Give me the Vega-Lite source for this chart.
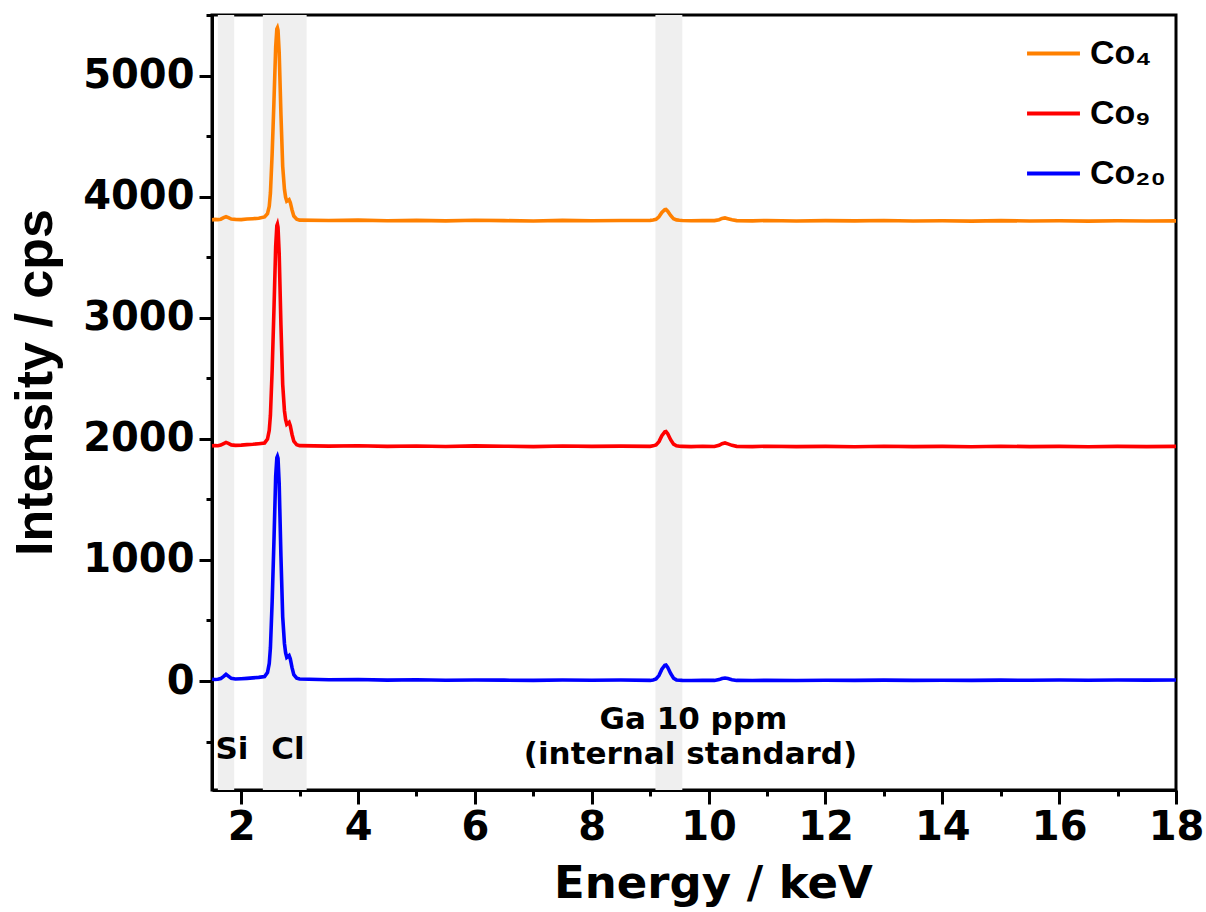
{
  "$schema": "https://vega.github.io/schema/vega-lite/v6.json",
  "width": 964,
  "height": 775,
  "autosize": {"type": "none"},
  "padding": {"left": 212, "top": 15, "right": 30, "bottom": 122},
  "background": "white",
  "config": {
    "view": {"stroke": "black", "strokeWidth": 3},
    "axis": {"grid": false, "domainColor": "black", "domainWidth": 3, "tickColor": "black", "tickWidth": 3, "labelColor": "black", "titleColor": "black"}
  },
  "datasets": {
    "bands": [
      {"x1": 1.6, "x2": 1.88},
      {"x1": 2.37, "x2": 3.12},
      {"x1": 9.09, "x2": 9.55}
    ],
    "notes": [
      {"t": "Si", "x": 1.84, "y": -570},
      {"t": "Cl", "x": 2.8, "y": -570},
      {"t": "Ga 10 ppm", "x": 9.74, "y": -322},
      {"t": "(internal standard)", "x": 9.69, "y": -612}
    ],
    "spec": [
      {"s":"Co₄","e":1.50,"i":3808},{"s":"Co₄","e":1.55,"i":3812},{"s":"Co₄","e":1.60,"i":3810},{"s":"Co₄","e":1.65,"i":3814},{"s":"Co₄","e":1.70,"i":3826},{"s":"Co₄","e":1.74,"i":3834},{"s":"Co₄","e":1.78,"i":3826},{"s":"Co₄","e":1.83,"i":3815},{"s":"Co₄","e":1.90,"i":3812},{"s":"Co₄","e":2.00,"i":3810},{"s":"Co₄","e":2.10,"i":3815},{"s":"Co₄","e":2.20,"i":3818},{"s":"Co₄","e":2.30,"i":3822},{"s":"Co₄","e":2.40,"i":3832},{"s":"Co₄","e":2.45,"i":3860},{"s":"Co₄","e":2.48,"i":3920},{"s":"Co₄","e":2.50,"i":4030},{"s":"Co₄","e":2.53,"i":4360},{"s":"Co₄","e":2.56,"i":4780},{"s":"Co₄","e":2.59,"i":5235},{"s":"Co₄","e":2.61,"i":5385},{"s":"Co₄","e":2.62,"i":5395},{"s":"Co₄","e":2.63,"i":5375},{"s":"Co₄","e":2.65,"i":5190},{"s":"Co₄","e":2.68,"i":4680},{"s":"Co₄","e":2.71,"i":4250},{"s":"Co₄","e":2.74,"i":4060},{"s":"Co₄","e":2.76,"i":3995},{"s":"Co₄","e":2.78,"i":3962},{"s":"Co₄","e":2.80,"i":3968},{"s":"Co₄","e":2.82,"i":3975},{"s":"Co₄","e":2.84,"i":3952},{"s":"Co₄","e":2.87,"i":3890},{"s":"Co₄","e":2.90,"i":3840},{"s":"Co₄","e":2.95,"i":3813},{"s":"Co₄","e":3.00,"i":3806},{"s":"Co₄","e":3.50,"i":3803},{"s":"Co₄","e":4.00,"i":3806},{"s":"Co₄","e":4.50,"i":3801},{"s":"Co₄","e":5.00,"i":3804},{"s":"Co₄","e":5.50,"i":3800},{"s":"Co₄","e":6.00,"i":3805},{"s":"Co₄","e":6.50,"i":3802},{"s":"Co₄","e":7.00,"i":3799},{"s":"Co₄","e":7.50,"i":3804},{"s":"Co₄","e":8.00,"i":3801},{"s":"Co₄","e":8.50,"i":3803},{"s":"Co₄","e":9.00,"i":3804},{"s":"Co₄","e":9.05,"i":3807},{"s":"Co₄","e":9.10,"i":3813},{"s":"Co₄","e":9.15,"i":3833},{"s":"Co₄","e":9.20,"i":3869},{"s":"Co₄","e":9.25,"i":3892},{"s":"Co₄","e":9.27,"i":3894},{"s":"Co₄","e":9.30,"i":3880},{"s":"Co₄","e":9.35,"i":3845},{"s":"Co₄","e":9.40,"i":3817},{"s":"Co₄","e":9.45,"i":3808},{"s":"Co₄","e":9.50,"i":3805},{"s":"Co₄","e":9.55,"i":3803},{"s":"Co₄","e":9.70,"i":3801},{"s":"Co₄","e":9.90,"i":3803},{"s":"Co₄","e":10.10,"i":3802},{"s":"Co₄","e":10.18,"i":3810},{"s":"Co₄","e":10.23,"i":3820},{"s":"Co₄","e":10.28,"i":3824},{"s":"Co₄","e":10.33,"i":3818},{"s":"Co₄","e":10.40,"i":3809},{"s":"Co₄","e":10.48,"i":3802},{"s":"Co₄","e":10.75,"i":3800},{"s":"Co₄","e":11.00,"i":3803},{"s":"Co₄","e":11.50,"i":3799},{"s":"Co₄","e":12.00,"i":3802},{"s":"Co₄","e":12.50,"i":3800},{"s":"Co₄","e":13.00,"i":3803},{"s":"Co₄","e":13.50,"i":3799},{"s":"Co₄","e":14.00,"i":3801},{"s":"Co₄","e":14.50,"i":3798},{"s":"Co₄","e":15.00,"i":3802},{"s":"Co₄","e":15.50,"i":3799},{"s":"Co₄","e":16.00,"i":3801},{"s":"Co₄","e":16.50,"i":3798},{"s":"Co₄","e":17.00,"i":3801},{"s":"Co₄","e":17.50,"i":3799},{"s":"Co₄","e":18.00,"i":3800},
      {"s":"Co₉","e":1.50,"i":1942},{"s":"Co₉","e":1.55,"i":1945},{"s":"Co₉","e":1.60,"i":1943},{"s":"Co₉","e":1.65,"i":1948},{"s":"Co₉","e":1.70,"i":1960},{"s":"Co₉","e":1.74,"i":1970},{"s":"Co₉","e":1.78,"i":1962},{"s":"Co₉","e":1.83,"i":1950},{"s":"Co₉","e":1.90,"i":1946},{"s":"Co₉","e":2.00,"i":1948},{"s":"Co₉","e":2.10,"i":1952},{"s":"Co₉","e":2.20,"i":1955},{"s":"Co₉","e":2.30,"i":1960},{"s":"Co₉","e":2.40,"i":1966},{"s":"Co₉","e":2.45,"i":1998},{"s":"Co₉","e":2.48,"i":2070},{"s":"Co₉","e":2.50,"i":2195},{"s":"Co₉","e":2.53,"i":2570},{"s":"Co₉","e":2.56,"i":3060},{"s":"Co₉","e":2.59,"i":3590},{"s":"Co₉","e":2.61,"i":3760},{"s":"Co₉","e":2.62,"i":3773},{"s":"Co₉","e":2.63,"i":3748},{"s":"Co₉","e":2.65,"i":3530},{"s":"Co₉","e":2.68,"i":2940},{"s":"Co₉","e":2.71,"i":2450},{"s":"Co₉","e":2.74,"i":2232},{"s":"Co₉","e":2.76,"i":2158},{"s":"Co₉","e":2.78,"i":2120},{"s":"Co₉","e":2.80,"i":2128},{"s":"Co₉","e":2.82,"i":2136},{"s":"Co₉","e":2.84,"i":2108},{"s":"Co₉","e":2.87,"i":2036},{"s":"Co₉","e":2.90,"i":1981},{"s":"Co₉","e":2.95,"i":1951},{"s":"Co₉","e":3.00,"i":1944},{"s":"Co₉","e":3.50,"i":1940},{"s":"Co₉","e":4.00,"i":1943},{"s":"Co₉","e":4.50,"i":1938},{"s":"Co₉","e":5.00,"i":1941},{"s":"Co₉","e":5.50,"i":1937},{"s":"Co₉","e":6.00,"i":1942},{"s":"Co₉","e":6.50,"i":1939},{"s":"Co₉","e":7.00,"i":1936},{"s":"Co₉","e":7.50,"i":1941},{"s":"Co₉","e":8.00,"i":1938},{"s":"Co₉","e":8.50,"i":1940},{"s":"Co₉","e":9.00,"i":1938},{"s":"Co₉","e":9.05,"i":1942},{"s":"Co₉","e":9.10,"i":1950},{"s":"Co₉","e":9.15,"i":1977},{"s":"Co₉","e":9.20,"i":2026},{"s":"Co₉","e":9.25,"i":2058},{"s":"Co₉","e":9.27,"i":2060},{"s":"Co₉","e":9.30,"i":2042},{"s":"Co₉","e":9.35,"i":1993},{"s":"Co₉","e":9.40,"i":1956},{"s":"Co₉","e":9.45,"i":1943},{"s":"Co₉","e":9.50,"i":1939},{"s":"Co₉","e":9.55,"i":1938},{"s":"Co₉","e":9.70,"i":1936},{"s":"Co₉","e":9.90,"i":1939},{"s":"Co₉","e":10.10,"i":1937},{"s":"Co₉","e":10.18,"i":1947},{"s":"Co₉","e":10.23,"i":1960},{"s":"Co₉","e":10.28,"i":1966},{"s":"Co₉","e":10.33,"i":1958},{"s":"Co₉","e":10.40,"i":1946},{"s":"Co₉","e":10.48,"i":1938},{"s":"Co₉","e":10.75,"i":1936},{"s":"Co₉","e":11.00,"i":1939},{"s":"Co₉","e":11.50,"i":1936},{"s":"Co₉","e":12.00,"i":1938},{"s":"Co₉","e":12.50,"i":1935},{"s":"Co₉","e":13.00,"i":1939},{"s":"Co₉","e":13.50,"i":1936},{"s":"Co₉","e":14.00,"i":1938},{"s":"Co₉","e":14.50,"i":1935},{"s":"Co₉","e":15.00,"i":1939},{"s":"Co₉","e":15.50,"i":1936},{"s":"Co₉","e":16.00,"i":1938},{"s":"Co₉","e":16.50,"i":1935},{"s":"Co₉","e":17.00,"i":1938},{"s":"Co₉","e":17.50,"i":1936},{"s":"Co₉","e":18.00,"i":1938},
      {"s":"Co₂₀","e":1.50,"i":15},{"s":"Co₂₀","e":1.55,"i":12},{"s":"Co₂₀","e":1.60,"i":14},{"s":"Co₂₀","e":1.65,"i":20},{"s":"Co₂₀","e":1.70,"i":38},{"s":"Co₂₀","e":1.74,"i":55},{"s":"Co₂₀","e":1.78,"i":40},{"s":"Co₂₀","e":1.83,"i":22},{"s":"Co₂₀","e":1.90,"i":17},{"s":"Co₂₀","e":2.00,"i":19},{"s":"Co₂₀","e":2.10,"i":22},{"s":"Co₂₀","e":2.20,"i":26},{"s":"Co₂₀","e":2.30,"i":30},{"s":"Co₂₀","e":2.40,"i":36},{"s":"Co₂₀","e":2.45,"i":70},{"s":"Co₂₀","e":2.48,"i":145},{"s":"Co₂₀","e":2.50,"i":275},{"s":"Co₂₀","e":2.53,"i":660},{"s":"Co₂₀","e":2.56,"i":1150},{"s":"Co₂₀","e":2.59,"i":1690},{"s":"Co₂₀","e":2.61,"i":1845},{"s":"Co₂₀","e":2.62,"i":1856},{"s":"Co₂₀","e":2.63,"i":1840},{"s":"Co₂₀","e":2.65,"i":1630},{"s":"Co₂₀","e":2.68,"i":1030},{"s":"Co₂₀","e":2.71,"i":530},{"s":"Co₂₀","e":2.74,"i":310},{"s":"Co₂₀","e":2.76,"i":233},{"s":"Co₂₀","e":2.78,"i":194},{"s":"Co₂₀","e":2.80,"i":201},{"s":"Co₂₀","e":2.82,"i":210},{"s":"Co₂₀","e":2.84,"i":183},{"s":"Co₂₀","e":2.87,"i":110},{"s":"Co₂₀","e":2.90,"i":53},{"s":"Co₂₀","e":2.95,"i":23},{"s":"Co₂₀","e":3.00,"i":16},{"s":"Co₂₀","e":3.50,"i":10},{"s":"Co₂₀","e":4.00,"i":12},{"s":"Co₂₀","e":4.50,"i":7},{"s":"Co₂₀","e":5.00,"i":10},{"s":"Co₂₀","e":5.50,"i":6},{"s":"Co₂₀","e":6.00,"i":9},{"s":"Co₂₀","e":6.50,"i":7},{"s":"Co₂₀","e":7.00,"i":5},{"s":"Co₂₀","e":7.50,"i":8},{"s":"Co₂₀","e":8.00,"i":6},{"s":"Co₂₀","e":8.50,"i":8},{"s":"Co₂₀","e":9.00,"i":5},{"s":"Co₂₀","e":9.05,"i":9},{"s":"Co₂₀","e":9.10,"i":17},{"s":"Co₂₀","e":9.15,"i":45},{"s":"Co₂₀","e":9.20,"i":97},{"s":"Co₂₀","e":9.25,"i":130},{"s":"Co₂₀","e":9.27,"i":132},{"s":"Co₂₀","e":9.30,"i":113},{"s":"Co₂₀","e":9.35,"i":62},{"s":"Co₂₀","e":9.40,"i":23},{"s":"Co₂₀","e":9.45,"i":9},{"s":"Co₂₀","e":9.50,"i":6},{"s":"Co₂₀","e":9.55,"i":5},{"s":"Co₂₀","e":9.70,"i":4},{"s":"Co₂₀","e":9.90,"i":6},{"s":"Co₂₀","e":10.10,"i":5},{"s":"Co₂₀","e":10.18,"i":12},{"s":"Co₂₀","e":10.23,"i":21},{"s":"Co₂₀","e":10.28,"i":25},{"s":"Co₂₀","e":10.33,"i":20},{"s":"Co₂₀","e":10.40,"i":11},{"s":"Co₂₀","e":10.48,"i":5},{"s":"Co₂₀","e":10.75,"i":4},{"s":"Co₂₀","e":11.00,"i":6},{"s":"Co₂₀","e":11.50,"i":4},{"s":"Co₂₀","e":12.00,"i":6},{"s":"Co₂₀","e":12.50,"i":5},{"s":"Co₂₀","e":13.00,"i":7},{"s":"Co₂₀","e":13.50,"i":5},{"s":"Co₂₀","e":14.00,"i":6},{"s":"Co₂₀","e":14.50,"i":5},{"s":"Co₂₀","e":15.00,"i":7},{"s":"Co₂₀","e":15.50,"i":6},{"s":"Co₂₀","e":16.00,"i":8},{"s":"Co₂₀","e":16.50,"i":6},{"s":"Co₂₀","e":17.00,"i":8},{"s":"Co₂₀","e":17.50,"i":7},{"s":"Co₂₀","e":18.00,"i":8}
    ]
  },
  "layer": [
    {
      "data": {"name": "bands"},
      "mark": {"type": "rect", "color": "#efefef", "clip": true},
      "encoding": {
        "x": {"field": "x1", "type": "quantitative", "scale": {"domain": [1.5, 18], "nice": false, "zero": false}, "axis": null},
        "x2": {"field": "x2"}
      }
    },
    {
      "data": {"name": "notes"},
      "mark": {"type": "text", "font": "DejaVu Sans", "fontWeight": "bold", "fontSize": 31, "color": "black", "align": "center", "baseline": "middle"},
      "encoding": {
        "x": {"field": "x", "type": "quantitative", "scale": {"domain": [1.5, 18], "nice": false, "zero": false},
              "axis": {"orient": "bottom", "values": [3, 5, 7, 9, 11, 13, 15, 17], "tickSize": 6, "labels": false, "domain": false, "title": null}},
        "y": {"field": "y", "type": "quantitative", "scale": {"domain": [-900, 5500], "nice": false, "zero": false},
              "axis": {"orient": "left", "values": [-500, 500, 1500, 2500, 3500, 4500, 5500], "tickSize": 6, "labels": false, "domain": false, "title": null}},
        "text": {"field": "t"}
      }
    },
    {
      "data": {"name": "spec"},
      "mark": {"type": "line", "strokeWidth": 3.6, "clip": true},
      "encoding": {
        "x": {"field": "e", "type": "quantitative", "scale": {"domain": [1.5, 18], "nice": false, "zero": false},
              "axis": {"orient": "bottom", "values": [2, 4, 6, 8, 10, 12, 14, 16, 18], "tickSize": 14, "labelFont": "DejaVu Sans", "labelFontWeight": "bold", "labelFontSize": 40, "labelPadding": 3, "labelFlush": false, "labelOverlap": false, "labelBound": false,
                       "title": "Energy / keV", "titleFont": "DejaVu Sans", "titleFontWeight": "bold", "titleFontSize": 45, "titleX": 501, "titleY": 107, "titleBaseline": "alphabetic", "titleAlign": "center"}},
        "y": {"field": "i", "type": "quantitative", "scale": {"domain": [-900, 5500], "nice": false, "zero": false},
              "axis": {"orient": "left", "values": [0, 1000, 2000, 3000, 4000, 5000], "format": "d", "tickSize": 13, "labelFont": "DejaVu Sans", "labelFontWeight": "bold", "labelFontSize": 40, "labelPadding": 5, "labelOverlap": false,
                       "title": "Intensity / cps", "titleFont": "Liberation Sans", "titleFontWeight": "bold", "titleFontSize": 52, "titleAngle": -90, "titleX": -177, "titleY": 367, "titleAlign": "center", "titleBaseline": "middle"}},
        "color": {"field": "s", "type": "nominal",
                  "scale": {"domain": ["Co₄", "Co₉", "Co₂₀"], "range": ["#FF8000", "#FF0000", "#0000FF"]},
                  "legend": {"orient": "none", "legendX": 813, "legendY": 10, "title": null, "padding": 0, "symbolType": "stroke", "symbolSize": 2800, "symbolStrokeWidth": 4, "labelFont": "Liberation Sans", "labelFontWeight": "bold", "labelFontSize": 34, "labelColor": "black", "rowPadding": 14, "labelOffset": 8}}
      }
    }
  ],
  "resolve": {"axis": {"x": "independent", "y": "independent"}}
}
